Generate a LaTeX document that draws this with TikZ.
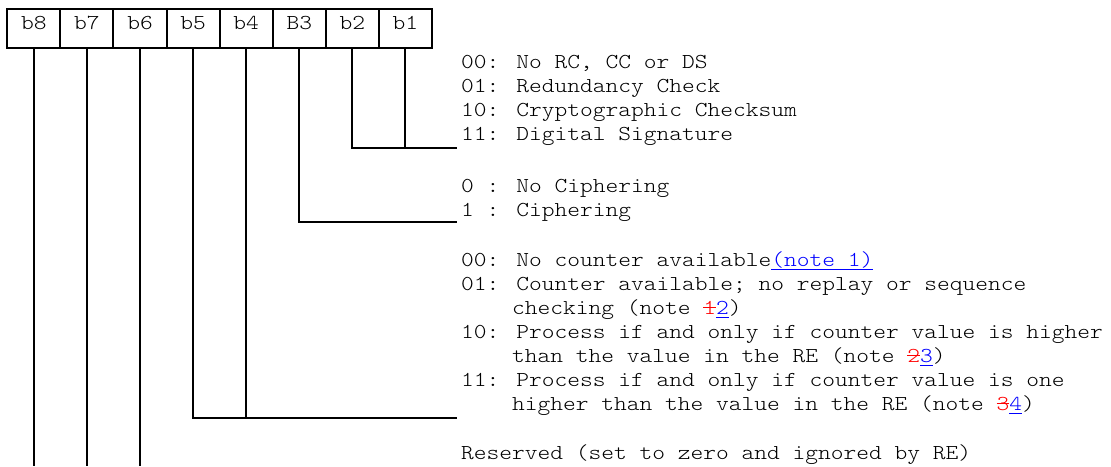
\documentclass[tikz,border=0pt]{standalone}
\usepackage{fontspec}
\newfontfamily\courfont[FakeStretch=1.1429]{lmmonolt10-regular.otf}
% revision marks: struck-out old note number, underlined new one
\newcommand\struck[1]{{\color{red}\setbox0\hbox{#1}\rlap{\rule[0.29em]{\wd0}{1.3pt}}\box0}}
\newcommand\added[1]{{\color{blue}\setbox0\hbox{#1}\rlap{\rule[-0.2em]{\wd0}{1.3pt}}\box0}}
\tikzset{
  mono/.style={font=\courfont\fontsize{21.25}{24}\selectfont},
  txt/.style={mono, anchor=base west, inner sep=0pt},
  bitcell/.style={mono, draw, line width=2pt, minimum width=53.1pt,
    minimum height=39pt, inner sep=0pt, text height=10pt, text depth=8.6pt},
  wire/.style={line width=2pt},
}
\begin{document}
\begin{tikzpicture}[x=1pt, y=-1pt]
\path[use as bounding box] (0,0) rectangle (1111,466);

% the octet
\node[bitcell] (c8) at (33.85,28.8) {b8};
\node[bitcell] (c7) at (86.94,28.8) {b7};
\node[bitcell] (c6) at (140.03,28.8) {b6};
\node[bitcell] (c5) at (193.12,28.8) {b5};
\node[bitcell] (c4) at (246.21,28.8) {b4};
\node[bitcell] (c3) at (299.30,28.8) {B3};
\node[bitcell] (c2) at (352.39,28.8) {b2};
\node[bitcell] (c1) at (405.48,28.8) {b1};

% line ends
\coordinate (bot) at (0,466);
\coordinate (jA) at (456.7,147.7);
\coordinate (jB) at (456.7,221.7);
\coordinate (jC) at (456.7,417.7);

% b2 b1
\node[txt] (t1a) at (461,68.5) {00: No RC, CC or DS};
\node[txt] (t1b) at (461,92.5) {01: Redundancy Check};
\node[txt] (t1c) at (461,116.5) {10: Cryptographic Checksum};
\node[txt] (t1d) at (461,140.5) {11: Digital Signature};

% B3
\node[txt] (t2a) at (461,192) {0 : No Ciphering};
\node[txt] (t2b) at (461,216) {1 : Ciphering};

% b5 b4
\node[txt] (t3a) at (461,266) {00: No counter available\added{(note 1)}};
\node[txt] (t3b) at (461,290) {01: Counter available; no replay or sequence};
\node[txt] (t3c) at (512,314) {checking (note \struck{1}\added{2})};
\node[txt] (t3d) at (461,338) {10: Process if and only if counter value is higher};
\node[txt] (t3e) at (512,362) {than the value in the RE (note \struck{2}\added{3})};
\node[txt] (t3f) at (461,386) {11: Process if and only if counter value is one};
\node[txt] (t3g) at (512,410) {higher than the value in the RE (note \struck{3}\added{4})};

% b8 b7 b6
\node[txt] (t4a) at (461,459) {Reserved (set to zero and ignored by RE)};

% connectors
\draw[wire] (c8.south) -- (c8.south |- bot);
\draw[wire] (c7.south) -- (c7.south |- bot);
\draw[wire] (c6.south) -- (c6.south |- bot);
\draw[wire] (c5.south) |- (jC);
\draw[wire] (c4.south) -- (c4.south |- jC);
\draw[wire] (c3.south) |- (jB);
\draw[wire] (c2.south) |- (jA);
\draw[wire] (c1.south) -- (c1.south |- jA);
\end{tikzpicture}
\end{document}
